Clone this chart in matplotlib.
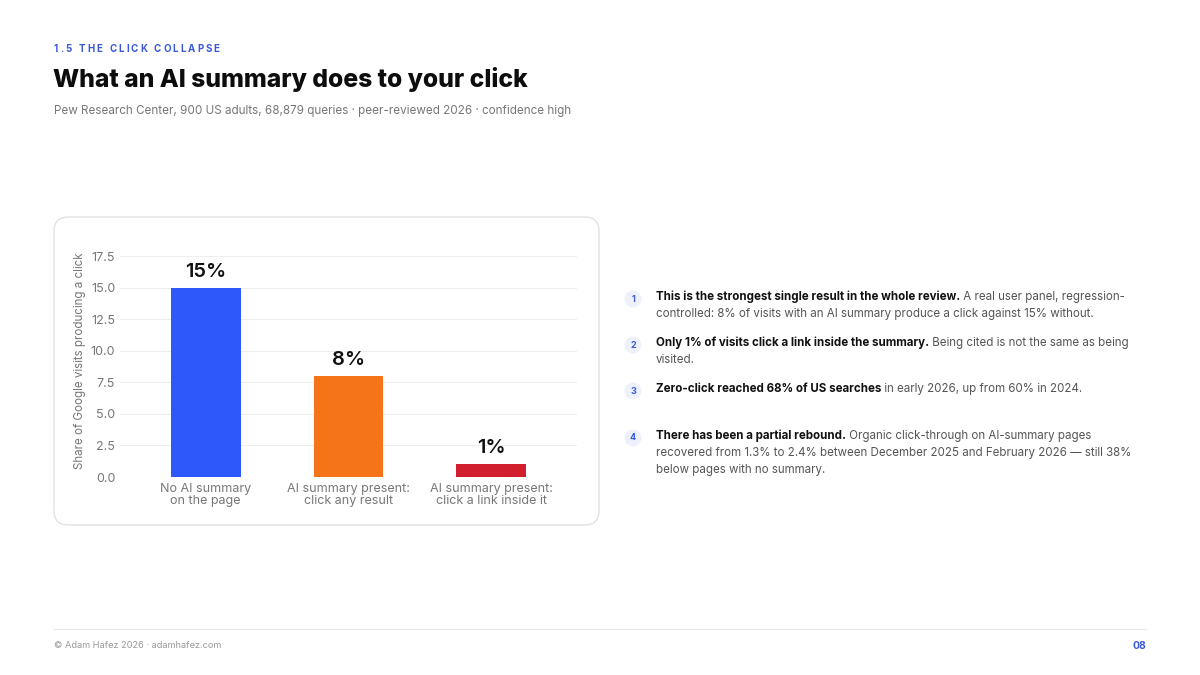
import matplotlib
matplotlib.use("Agg")
import matplotlib.pyplot as plt
from matplotlib.patches import FancyBboxPatch, Ellipse
from matplotlib.lines import Line2D

plt.rcParams["font.family"] = ["Inter", "DejaVu Sans"]

# data
categories = ["No AI summary\non the page",
              "AI summary present:\nclick any result",
              "AI summary present:\nclick a link inside it"]
values = [15, 8, 1]
value_labels = ["15%", "8%", "1%"]
bar_colors = ["#2f58fb", "#f57417", "#d11f2e"]
y_ticks = [0.0, 2.5, 5.0, 7.5, 10.0, 12.5, 15.0, 17.5]

notes = [
    ("This is the strongest single result in the whole review.",
     [" A real user panel, regression-",
      "controlled: 8% of visits with an AI summary produce a click against 15% without."]),
    ("Only 1% of visits click a link inside the summary.",
     [" Being cited is not the same as being", "visited."]),
    ("Zero-click reached 68% of US searches",
     [" in early 2026, up from 60% in 2024."]),
    ("There has been a partial rebound.",
     [" Organic click-through on AI-summary pages",
      "recovered from 1.3% to 2.4% between December 2025 and February 2026 \u2014 still 38%",
      "below pages with no summary."]),
]
note_y = [297, 343, 389, 436]

W, H = 1200, 675
fig = plt.figure(figsize=(12, 6.75), dpi=100)
fig.patch.set_facecolor("white")


def fx(px):
    return px / W


def fy(py):
    return 1 - py / H


BLUE = "#3a5bd9"
NOTE_FS = 8.3

# kicker with letter spacing
renderer = fig.canvas.get_renderer()
x = 54
for ch in "1.5 THE CLICK COLLAPSE":
    t = fig.text(fx(x), fy(49), ch, fontsize=7, fontweight="bold", color=BLUE,
                 va="center", ha="left")
    w = t.get_window_extent(renderer).width
    if ch == " ":
        w = 3
    x += w + 2.0

fig.text(fx(53), fy(80), "What an AI summary does to your click", fontsize=17.8,
         fontweight="heavy", color="#0d0d0d", va="center", ha="left")
fig.text(fx(54), fy(111),
         "Pew Research Center, 900 US adults, 68,879 queries \u00b7 peer-reviewed 2026 \u00b7 confidence high",
         fontsize=8.4, color="#777777", va="center", ha="left")

# card
card = FancyBboxPatch((fx(54), fy(525)), fx(545), (525 - 217) / H,
                      boxstyle="round,pad=0,rounding_size=0.012",
                      transform=fig.transFigure, facecolor="white",
                      edgecolor="#e2e2e2", linewidth=1.0, mutation_aspect=W / H,
                      zorder=-5)
fig.patches.append(card)

ax = fig.add_axes([fx(120), fy(477), fx(577 - 120), (477 - 245) / H])
ax.set_facecolor("none")
xs = range(len(values))
ax.bar(xs, values, width=0.49, color=bar_colors, zorder=3)
for xi, v, lab in zip(xs, values, value_labels):
    ax.text(xi, v + 0.55, lab, ha="center", va="bottom", fontsize=14.5,
            fontweight="semibold", color="#111111")
ax.set_xlim(-0.6, 2.6)
ax.set_ylim(0, 18.4)
ax.set_yticks(y_ticks)
ax.set_yticklabels([f"{t:.1f}" for t in y_ticks])
ax.set_xticks(list(xs))
ax.set_xticklabels(categories, linespacing=1.05)
ax.tick_params(axis="both", length=0, labelsize=9, labelcolor="#777777")
ax.tick_params(axis="x", pad=4)
ax.tick_params(axis="y", pad=3.5)
ax.grid(axis="y", color="#eeeeee", linewidth=0.8, zorder=0)
for s in ax.spines.values():
    s.set_visible(False)
ax.set_ylabel("Share of Google visits producing a click", fontsize=8.3,
              color="#777777", labelpad=3)

# notes
for n, ((bold, rest), y0) in enumerate(zip(notes, note_y), start=1):
    y = y0 + 2
    fig.patches.append(Ellipse((fx(633), fy(y)), 17 / W, 17 / H,
                               transform=fig.transFigure,
                               facecolor="#eef1fb", edgecolor="none"))
    fig.text(fx(633), fy(y), str(n), fontsize=6.5,
             fontweight="bold", color=BLUE, ha="center", va="center")
    tb = fig.text(fx(656), fy(y0), bold, fontsize=NOTE_FS, fontweight="bold",
                  color="#111111", ha="left", va="center")
    bw = tb.get_window_extent(renderer).width
    fig.text(fx(656 + bw), fy(y0), rest[0], fontsize=NOTE_FS, color="#555555",
             ha="left", va="center")
    for i, line in enumerate(rest[1:], start=1):
        fig.text(fx(656), fy(y0 + 17 * i), line, fontsize=NOTE_FS, color="#555555",
                 ha="left", va="center")

# footer
fig.add_artist(Line2D([fx(54), fx(1146)], [fy(629), fy(629)], color="#e6e6e6",
                      linewidth=0.8, transform=fig.transFigure))
fig.text(fx(54), fy(646), "\u00a9 Adam Hafez 2026 \u00b7 adamhafez.com", fontsize=6.6,
         color="#999999", ha="left", va="center")
fig.text(fx(1146), fy(646), "08", fontsize=7.5, fontweight="bold", color=BLUE,
         ha="right", va="center")

fig.savefig("out.png", dpi=100, facecolor="white")
